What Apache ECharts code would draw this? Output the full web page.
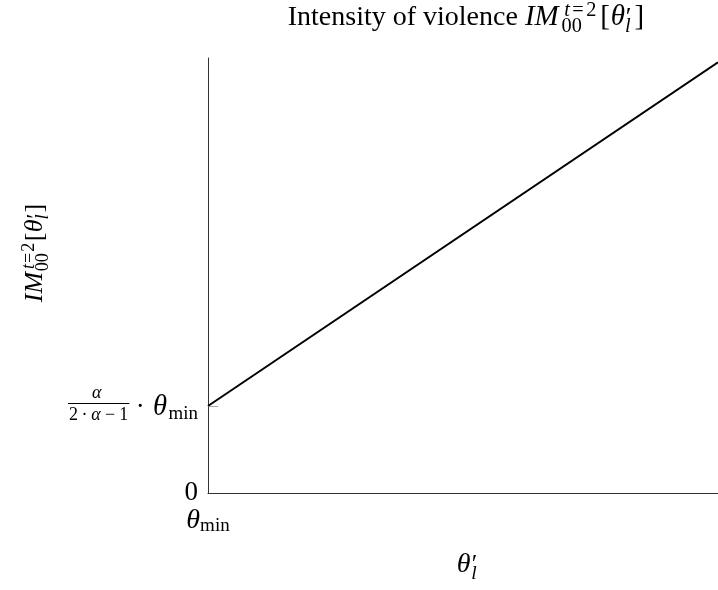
<!DOCTYPE html>
<html>
<head>
<meta charset="utf-8">
<script src="https://cdn.jsdelivr.net/npm/echarts@6/dist/echarts.min.js"></script>
<style>
  html, body { margin: 0; padding: 0; background: #fff; }
  #chart { width: 718px; height: 590px; }
</style>
</head>
<body>
<div id="chart"></div>
<script>
// Intensity of violence as a function of theta'_l (starting at theta_min)
const thetaPrime = [0, 1];        // x: theta'_l, theta_min at 0
const intensity  = [0.2, 0.99];   // y: IM_00^{t=2}[theta'_l]
const xTickValues = [0];          // theta_min
const yZeroTick   = [0];          // "0"
const yLevelTick  = [0.2];        // alpha/(2 alpha - 1) * theta_min

const SERIF = '"Liberation Serif", "Times New Roman", serif';
const MAIN = 27;
const INK = '#000';

const measureCtx = document.createElement('canvas').getContext('2d');
function fontOf(size, italic) {
  return (italic ? 'italic ' : '') + size + 'px ' + SERIF;
}
function textWidth(t, size, italic) {
  measureCtx.font = fontOf(size, italic);
  return measureCtx.measureText(t).width;
}

// Lays out a small run of math pieces on a common baseline (y = 0).
// Node kinds: {t, it, s, dy} plain text; {gap} horizontal space (em);
// {stack: [{items, s, dy}, ...]} pieces drawn over each other (sup/sub).
function layoutMath(nodes, size) {
  const children = [];
  let x = 0;
  function put(t, px, baseY, sz, it) {
    children.push({
      type: 'text', x: px, y: baseY - 0.305 * sz,
      style: { text: t, font: fontOf(sz, it), fill: INK, align: 'left', verticalAlign: 'middle' }
    });
    return textWidth(t, sz, it);
  }
  for (const n of nodes) {
    if (n.gap !== undefined) { x += n.gap * size; continue; }
    if (n.stack) {
      let w = 0;
      for (const part of n.stack) {
        let px = x + (part.kern || 0) * size;
        for (const it of part.items) {
          if (it.gap !== undefined) { px += it.gap * size; continue; }
          px += put(it.t, px, part.dy * size, part.s * size, it.it);
        }
        w = Math.max(w, px - x);
      }
      x += w;
      continue;
    }
    const sz = (n.s || 1) * size;
    x += put(n.t, x, (n.dy || 0) * size, sz, n.it);
  }
  return { children, width: x };
}

// IM_{00}^{t=2}[theta'_l]
function imNodes(spread) {
  return [
    { t: 'IM', it: true },
    { gap: 0.1 * spread },
    { stack: [
        { items: [{ t: 't', it: true }, { gap: 0.06 * spread }, { t: '=' }, { gap: 0.06 * spread }, { t: '2' }],
          s: 0.7, dy: -0.33, kern: 0.05 },
        { items: [{ t: '00' }], s: 0.7, dy: 0.22, kern: -0.04 }
    ] },
    { gap: 0.1 * spread },
    { t: '[' },
    { gap: 0.02 * spread },
    { t: 'θ', it: true },
    { stack: [
        { items: [{ t: '′' }], s: 0.9, dy: 0.0, kern: 0.02 },
        { items: [{ t: 'l', it: true }], s: 0.7, dy: 0.24 }
    ] },
    { gap: 0.08 * spread },
    { t: ']' }
  ];
}

const chartDom = document.getElementById('chart');
const chart = echarts.init(chartDom, null, { renderer: 'canvas' });

chart.setOption({
  animation: false,
  backgroundColor: '#fff',
  grid: { left: 208, right: 0, top: 58, bottom: 97 },
  xAxis: {
    type: 'value', min: 0, max: 1,
    axisLine: { show: true, onZero: false, lineStyle: { color: '#333', width: 1 } },
    axisTick: { show: false },
    splitLine: { show: false },
    axisLabel: {
      customValues: xTickValues,
      margin: 13,
      formatter: () => '{t|θ}{s|min}',
      rich: {
        t: { fontFamily: SERIF, fontStyle: 'italic', fontSize: 28, color: INK, lineHeight: 30 },
        s: { fontFamily: SERIF, fontSize: 19, color: INK, lineHeight: 7, verticalAlign: 'bottom' }
      }
    }
  },
  yAxis: {
    type: 'value', min: 0, max: 1,
    axisLine: { show: true, lineStyle: { color: '#333', width: 1 } },
    axisTick: { show: true, inside: true, length: 10, customValues: yLevelTick,
                lineStyle: { color: '#aaa', width: 1 } },
    splitLine: { show: false },
    axisLabel: {
      customValues: yZeroTick,
      margin: 10,
      formatter: v => String(v),
      fontFamily: SERIF, fontSize: MAIN, color: INK
    }
  },
  series: [{
    type: 'line',
    data: thetaPrime.map((x, i) => [x, intensity[i]]),
    showSymbol: false,
    clip: true,
    lineStyle: { color: INK, width: 2 }
  }]
});

// Math annotations: title, axis names and the level label
const graphics = [];

// Title
const TITLE = 28;
const titleLead = 'Intensity of violence ';
const leadW = textWidth(titleLead, TITLE, false);
const imTitle = layoutMath(imNodes(1.4), 29);
const titleW = leadW + imTitle.width;
const titleX = 466 - titleW / 2;
graphics.push({
  type: 'group', x: titleX, y: 26,
  children: [
    { type: 'text', x: 0, y: -0.305 * TITLE,
      style: { text: titleLead, font: fontOf(TITLE, false), fill: INK, align: 'left', verticalAlign: 'middle' } },
    { type: 'group', x: leadW, y: 0, children: imTitle.children }
  ]
});

// Y axis name, rotated
const imY = layoutMath(imNodes(0.6), 26);
graphics.push({
  type: 'group', x: 43, y: 253 + imY.width / 2, rotation: Math.PI / 2,
  children: imY.children
});

// X axis name theta'_l
const xName = layoutMath([
  { t: 'θ', it: true },
  { gap: 0.03 },
  { stack: [
      { items: [{ t: '′' }], s: 0.9, dy: 0.0, kern: 0.02 },
      { items: [{ t: 'l', it: true }], s: 0.7, dy: 0.26 }
  ] }
], 28);
const axisMid = chart.convertToPixel({ gridIndex: 0 }, [(thetaPrime[0] + thetaPrime[1]) / 2, 0]);
graphics.push({
  type: 'group', x: axisMid[0] + 4 - xName.width / 2, y: 573,
  children: xName.children
});

// Level label alpha/(2 alpha - 1) * theta_min beside the y tick
const FR = 18;
const levelPx = chart.convertToPixel({ gridIndex: 0 }, [0, yLevelTick[0]]);
const num = layoutMath([{ t: 'α', it: true }], FR);
const den = layoutMath([
  { t: '2' }, { gap: 0.2 }, { t: '·' }, { gap: 0.2 },
  { t: 'α', it: true }, { gap: 0.24 }, { t: '−' }, { gap: 0.24 }, { t: '1' }
], FR);
const fracW = Math.max(num.width, den.width) + 2;
const tail = layoutMath([
  { gap: 0.24 }, { t: '·' }, { gap: 0.3 },
  { t: 'θ', it: true, s: 1.06 }, { gap: 0.06 }, { t: 'min', s: 0.7, dy: 0.14 }
], MAIN);
const levelW = fracW + tail.width;
const axisX = levelPx[0];
const ty = levelPx[1];
graphics.push({
  type: 'group', x: axisX - 10 - levelW, y: ty,
  children: [
    { type: 'group', x: (fracW - num.width) / 2 - 2, y: -7, children: num.children },
    { type: 'line', shape: { x1: 0, y1: -2.5, x2: fracW, y2: -2.5 }, style: { stroke: INK, lineWidth: 1 } },
    { type: 'group', x: (fracW - den.width) / 2, y: 15, children: den.children },
    { type: 'group', x: fracW, y: 10, children: tail.children }
  ]
});

chart.setOption({ graphic: graphics });
</script>
</body>
</html>
